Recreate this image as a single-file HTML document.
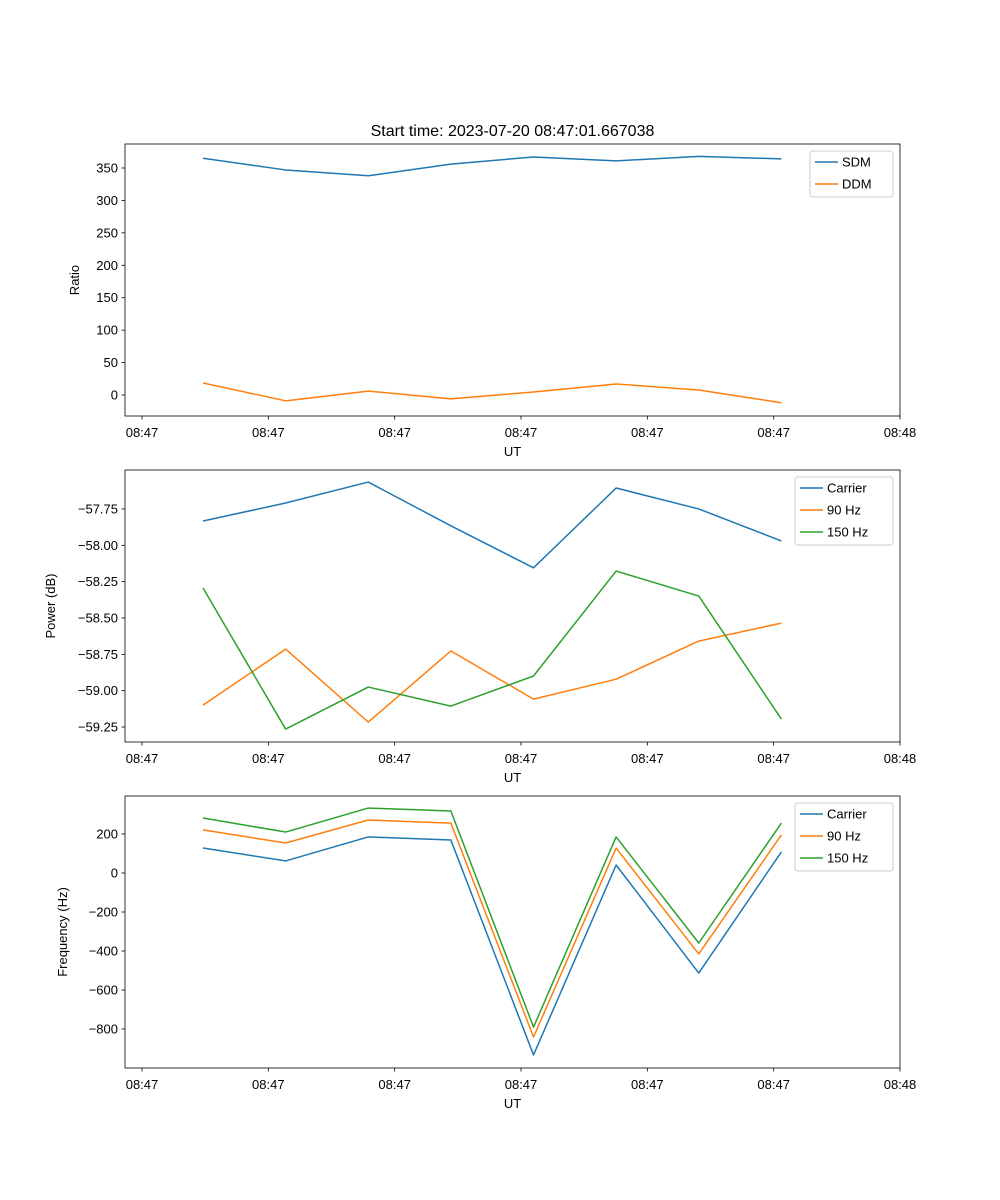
<!DOCTYPE html>
<html><head><meta charset="utf-8"><style>
html,body{margin:0;padding:0;background:#fff;}
svg{display:block;font-family:"Liberation Sans","DejaVu Sans",sans-serif;}
</style></head><body>
<svg id="chart" width="1000" height="1200" viewBox="0 0 1000 1200" xmlns="http://www.w3.org/2000/svg">
<rect width="1000" height="1200" fill="#fff"/>
<text x="512.5" y="136" text-anchor="middle" font-size="16">Start time: 2023-07-20 08:47:01.667038</text>
</svg>
<script>
const times = [4.83, 11.37, 17.91, 24.45, 30.99, 37.53, 44.07, 50.61];
const xTickLabels = ["08:47","08:47","08:47","08:47","08:47","08:47","08:48"];
const xTickValues = [0,10,20,30,40,50,60];
const sdm = [365, 347, 338, 356, 367, 361, 368, 364];
const ddm = [18.5, -9, 6, -6, 4.6, 17, 7.7, -12];
const powCarrier = [-57.833, -57.709, -57.565, -57.866, -58.155, -57.606, -57.75, -57.97];
const pow90 = [-59.099, -58.714, -59.216, -58.727, -59.058, -58.921, -58.659, -58.535];
const pow150 = [-58.294, -59.264, -58.975, -59.106, -58.899, -58.177, -58.349, -59.195];
const freqCarrier = [128, 62, 185, 169, -933, 41, -513, 108];
const freq90 = [221, 154, 272, 256, -841, 128, -415, 195];
const freq150 = [282, 210, 333, 318, -790, 185, -359, 256];
const ticks1 = [0,50,100,150,200,250,300,350];
const ticks2 = [-59.25,-59.0,-58.75,-58.5,-58.25,-58.0,-57.75];
const ticks3 = [-800,-600,-400,-200,0,200];

const NS="http://www.w3.org/2000/svg";
const svg=document.getElementById('chart');
const X0=125,X1=900;
function xs(v){return 142+(v)*(758/60);}
function mk(tag,attrs,parent){const e=document.createElementNS(NS,tag);for(const k in attrs)e.setAttribute(k,attrs[k]);(parent||svg).appendChild(e);return e;}

function panel(id,top,bottom,ymin,ymax,yticks,fmt,series,ylabel,ylabelX,legend){
  const g=mk('g',{});
  
  
  const ys=v=>bottom-(v-ymin)/(ymax-ymin)*(bottom-top);
  series.forEach(s=>{
    const pts=s.vals.map((v,i)=>xs(times[i]).toFixed(2)+','+ys(v).toFixed(2)).join(' ');
    const pl=mk('polyline',{points:pts,fill:'none',stroke:s.color,'stroke-width':1.5,'stroke-linejoin':'round'},g);
    
    
  });
  const fr=mk('rect',{x:X0,y:top,width:X1-X0,height:bottom-top,fill:'none',stroke:'#000','stroke-width':0.8},g);
  
  
  xTickValues.forEach((v,i)=>{
    const x=xs(v);
    mk('line',{x1:x,x2:x,y1:bottom,y2:bottom+3.5,stroke:'#000','stroke-width':0.8},g);
    const t=mk('text',{x:x,y:bottom+21,'text-anchor':'middle','font-size':13},g);
    t.textContent=xTickLabels[i];
    
    
  });
  const xl=mk('text',{x:512.5,y:bottom+40,'text-anchor':'middle','font-size':13},g);
  xl.textContent='UT';
  
  
  yticks.forEach(v=>{
    const y=ys(v);
    mk('line',{x1:X0-3.5,x2:X0,y1:y,y2:y,stroke:'#000','stroke-width':0.8},g);
    const t=mk('text',{x:X0-7,y:y+4.5,'text-anchor':'end','font-size':13},g);
    t.textContent=fmt(v);
    
    
  });
  const yl=mk('text',{x:ylabelX,y:(top+bottom)/2,'text-anchor':'middle','font-size':13,transform:`rotate(-90 ${ylabelX} ${(top+bottom)/2})`},g);
  yl.textContent=ylabel;
  
  
  const lg=mk('g',{},g);
  
  
  mk('rect',{x:legend.x,y:top+7,width:X1-7-legend.x,height:series.length*22+2,rx:3,fill:'#fff','fill-opacity':0.8,stroke:'#ccc','stroke-width':1},lg);
  series.forEach((s,i)=>{
    const y=top+18+i*22;
    mk('line',{x1:legend.x+5,x2:legend.x+28,y1:y,y2:y,stroke:s.color,'stroke-width':1.5},lg);
    const t=mk('text',{x:legend.x+32,y:y+4.5,'font-size':13},lg);
    t.textContent=s.label;
    
    
  });
}
const B='#1f77b4',O='#ff7f0e',G='#2ca02c';
panel('ratio',144,416,-32.4,387,ticks1,v=>String(v),
  [{key:'sdm',label:'SDM',vals:sdm,color:B},{key:'ddm',label:'DDM',vals:ddm,color:O}],'Ratio',79,{x:810});
panel('power',470,742,-59.353,-57.482,ticks2,v=>'\u2212'+Math.abs(v).toFixed(2),
  [{key:'carrier',label:'Carrier',vals:powCarrier,color:B},{key:'90hz',label:'90 Hz',vals:pow90,color:O},{key:'150hz',label:'150 Hz',vals:pow150,color:G}],'Power (dB)',55,{x:795});
panel('frequency',796,1068,-1000,394.9,ticks3,v=>v<0?'\u2212'+Math.abs(v):String(v),
  [{key:'carrier',label:'Carrier',vals:freqCarrier,color:B},{key:'90hz',label:'90 Hz',vals:freq90,color:O},{key:'150hz',label:'150 Hz',vals:freq150,color:G}],'Frequency (Hz)',67,{x:795});
</script>
</body></html>
